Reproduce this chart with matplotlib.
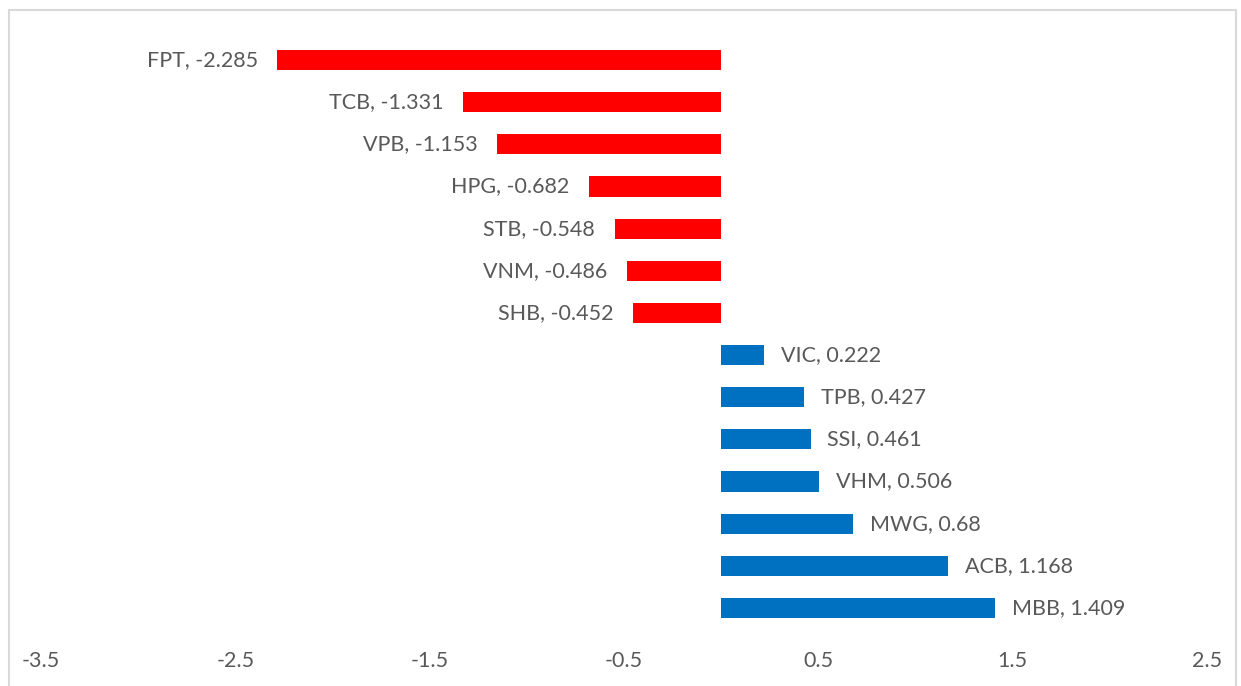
import matplotlib
matplotlib.use("Agg")
import matplotlib.pyplot as plt
from matplotlib.patches import Rectangle

tickers = ["FPT", "TCB", "VPB", "HPG", "STB", "VNM", "SHB",
           "VIC", "TPB", "SSI", "VHM", "MWG", "ACB", "MBB"]
values = [-2.285, -1.331, -1.153, -0.682, -0.548, -0.486, -0.452,
          0.222, 0.427, 0.461, 0.506, 0.68, 1.168, 1.409]
xticks = [-3.5, -2.5, -1.5, -0.5, 0.5, 1.5, 2.5]

plt.rcParams['font.family'] = ['Lato', 'DejaVu Sans']
W, H = 1241, 686
fig = plt.figure(figsize=(W / 100, H / 100), dpi=100)
fig.patch.set_facecolor("white")

# outer chart border
fig.patches.append(Rectangle((9 / W, -0.02), (1236 - 9) / W, 1.02 - 10 / H,
                             transform=fig.transFigure, fill=False,
                             edgecolor="#D9D9D9", linewidth=1.5))

ax = fig.add_axes([41 / W, (H - 629) / H, (1207 - 41) / W, (629 - 39) / H])
txt = "#595959"
fs = 15.5
ypos = list(range(len(tickers)))
colors = ["#FF0000" if v < 0 else "#0070C0" for v in values]
ax.barh(ypos, values, height=0.48, color=colors)
ax.set_ylim(len(tickers) - 0.5, -0.5)
ax.set_xlim(-3.5, 2.5)
ax.set_xticks(xticks)
ax.set_xticklabels([f"{t:g}" for t in xticks], color=txt, fontsize=fs)
ax.tick_params(axis="x", length=0, pad=16)
ax.set_yticks([])
for s in ax.spines.values():
    s.set_visible(False)

for y, name, v in zip(ypos, tickers, values):
    label = f"{name}, {v:g}"
    if v < 0:
        ax.annotate(label, (v, y), xytext=(-14, 0), textcoords="offset points",
                    ha="right", va="center", color=txt, fontsize=fs)
    else:
        ax.annotate(label, (v, y), xytext=(12, 0), textcoords="offset points",
                    ha="left", va="center", color=txt, fontsize=fs)

fig.savefig("out.png", dpi=100)
